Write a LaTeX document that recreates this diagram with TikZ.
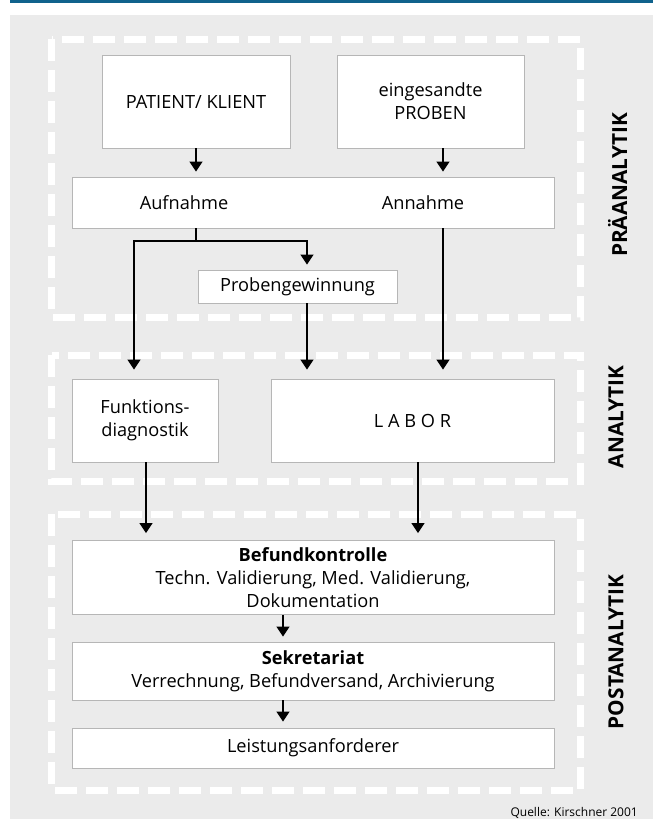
\documentclass[tikz,border=0pt]{standalone}
\usepackage{fontspec}
\setmainfont{Open Sans}
\usetikzlibrary{arrows.meta,calc}
\definecolor{bgray}{RGB}{235,235,235}
\definecolor{bordergray}{RGB}{182,182,182}
\definecolor{topblue}{RGB}{16,98,140}
\begin{document}
\begin{tikzpicture}[x=1pt,y=-1pt,
  box/.style={draw=bordergray,line width=0.9pt,fill=white,inner sep=0pt,align=center,font=\fontsize{18.2}{23.3}\selectfont},
  lbl/.style={inner sep=0pt,align=center,font=\fontsize{18.2}{23.3}\selectfont},
  arr/.style={line width=1.3pt,-{Triangle[width=13pt,length=10pt]}},
  ln/.style={line width=1.3pt},
  dframe/.style={draw=white,line width=7pt,dash pattern=on 22pt off 9pt},
  sidelbl/.style={font=\bfseries\fontsize{20.8}{24}\selectfont,rotate=90,inner sep=0pt}]
\useasboundingbox (0,0) rectangle (661,819);
\fill[bgray] (10,15) rectangle (653,819);
\draw[topblue,line width=2.5pt] (10,1.25) -- (653,1.25);

\draw[dframe] (51.5,39) rectangle (580,317);
\draw[dframe] (51.5,355) rectangle (580,481);
\draw[dframe] (51.5,514) rectangle (580,790);

\node[box,minimum width=188pt,minimum height=93pt] (patient) at (196,101.5) {PATIENT/ KLIENT};
\node[box,minimum width=187pt,minimum height=93pt] (proben) at (430.5,101.5) {eingesandte\\PROBEN};
\node[box,minimum width=482pt,minimum height=51pt] (bar) at (313,202.5) {};
\node[lbl] (aufn) at (184,202.5) {Aufnahme};
\node[lbl] (annahme) at (423,202.5) {Annahme};
\node[box,minimum width=199pt,minimum height=33pt] (probeng) at (297.5,286.5) {Probengewinnung};
\node[box,minimum width=146pt,minimum height=83pt] (funk) at (145,420.5) {Funktions-\\diagnostik};
\node[box,minimum width=283pt,minimum height=83pt] (labor) at (412.5,420.5) {L A B O R};
\node[box,minimum width=482pt,minimum height=74pt] (befund) at (313,577.5) {\textbf{Befundkontrolle}\\Techn. Validierung, Med. Validierung,\\Dokumentation};
\node[box,minimum width=482pt,minimum height=58pt] (sekr) at (313,671) {\textbf{Sekretariat}\\Verrechnung, Befundversand, Archivierung};
\node[box,minimum width=482pt,minimum height=40pt] (leist) at (313,748) {Leistungsanforderer};

\node[sidelbl] (prae) at (617.5,185) {PRÄANALYTIK};
\node[sidelbl] (ana) at (616,417) {ANALYTIK};
\node[sidelbl] (post) at (616,652) {POSTANALYTIK};

\node[anchor=base east,inner sep=0pt,font=\fontsize{12}{14}\selectfont] (quelle) at (638,816) {Quelle: Kirschner 2001};

\coordinate (x443) at (443,0);
\coordinate (x307) at (307,0);
\coordinate (x134) at (134,0);
\coordinate (x146) at (146,0);
\coordinate (x418) at (418,0);
\coordinate (x283) at (283,0);
\coordinate (y241) at (0,241);
\coordinate (j) at (y241 -| patient.south);

\draw[arr,shorten >=5pt] (patient.south) -- (patient.south |- bar.north);
\draw[arr,shorten >=5pt] (proben.south -| x443) -- (bar.north -| x443);
\draw[ln] (bar.south -| patient.south) -- (j);
\draw[arr,shorten >=5pt] (j) -| (probeng.north -| x307);
\draw[arr,shorten >=9pt] (j) -| (funk.north -| x134);
\draw[arr,shorten >=9pt] (probeng.south -| x307) -- (labor.north -| x307);
\draw[arr,shorten >=9pt] (bar.south -| x443) -- (labor.north -| x443);
\draw[arr,shorten >=7pt] (funk.south -| x146) -- (befund.north -| x146);
\draw[arr,shorten >=7pt] (labor.south -| x418) -- (befund.north -| x418);
\draw[arr,shorten >=5pt] (befund.south -| x283) -- (sekr.north -| x283);
\draw[arr,shorten >=6pt] (sekr.south -| x283) -- (leist.north -| x283);
\end{tikzpicture}
\end{document}
